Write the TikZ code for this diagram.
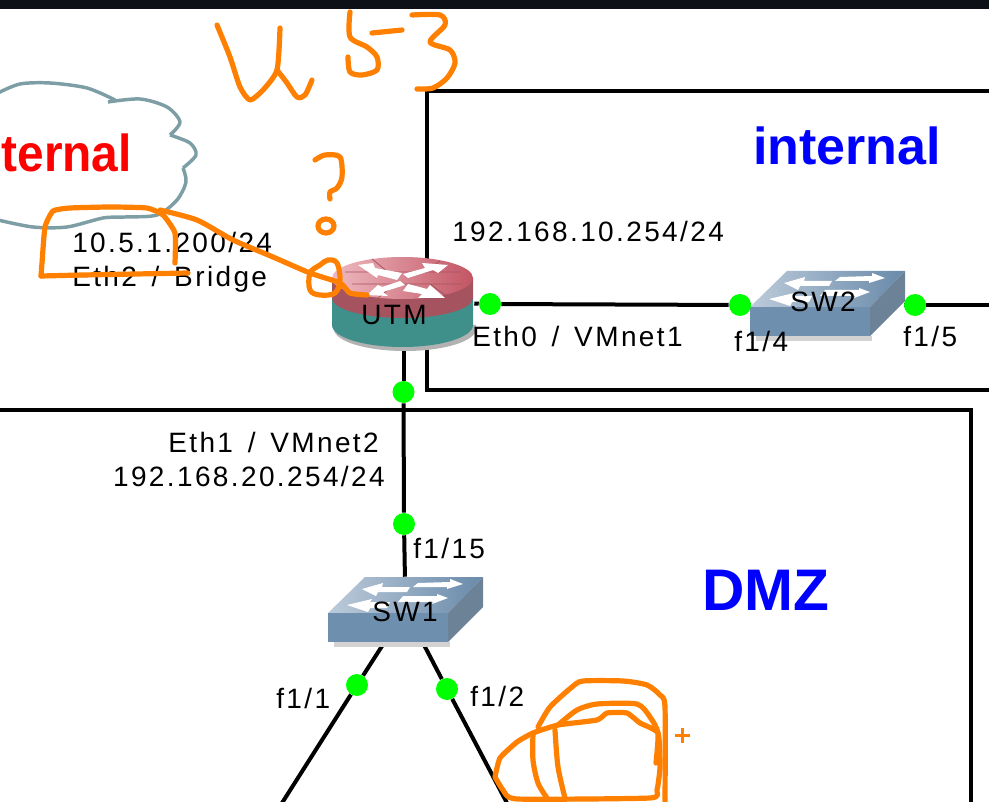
\documentclass[tikz,border=0pt]{standalone}
\usepackage{fontspec}
\setmainfont{Liberation Sans}
\newfontfamily\netfont[LetterSpace=8.5,WordSpace=1.45]{Liberation Sans}
\usetikzlibrary{arrows,backgrounds}
\definecolor{topbar}{RGB}{13,17,23}
\definecolor{inkorange}{RGB}{255,128,0}
\definecolor{portgreen}{RGB}{0,255,0}
\definecolor{cloudline}{RGB}{125,158,165}
\definecolor{routertop}{RGB}{195,85,100}
\definecolor{routerlight}{RGB}{238,185,192}
\definecolor{routerband}{RGB}{165,83,95}
\definecolor{routerteal}{RGB}{63,143,138}
\definecolor{swlight}{RGB}{188,203,218}
\definecolor{swtop}{RGB}{105,138,170}
\definecolor{swfront}{RGB}{110,143,173}
\definecolor{swside}{RGB}{108,130,150}
\tikzstyle{link} = [line width=3pt,color=black]
\tikzstyle{port} = [circle,fill=portgreen,inner sep=0pt,minimum size=16.5pt]
\tikzstyle{body} = [rectangle,inner sep=0pt]
\tikzstyle{netlabel} = [anchor=base west,inner sep=0pt,font=\netfont\fontsize{21}{21}\selectfont]
\tikzstyle{ink} = [line width=3.9pt,color=inkorange,line cap=round,line join=round]
\tikzstyle{zonelabel} = [anchor=base west,inner sep=0pt,font=\bfseries]
\newcommand{\switchicon}[2]{
  \begin{scope}[shift={(#1,#2)}]
    \fill[gray!35] (6,65) rectangle (122,70);
    \shade[left color=swlight,right color=swtop] (0,36) -- (37,0) -- (155,0) -- (120,36) -- cycle;
    \fill[swfront] (0,36) rectangle (120,65);
    \fill[swside] (120,36) -- (155,0) -- (155,30) -- (120,65) -- cycle;
    % Arrows on top
    \fill[white] (34,12) -- (55,6) -- (54,10) -- (82,10) -- (79,15) -- (50,15) -- (48,19) -- cycle;
    \fill[white] (135,7) -- (122,2) -- (122,5) -- (90,6) -- (85,10) -- (119,10) -- (119,12) -- cycle;
    \fill[white] (19,28) -- (44,22) -- (42,25) -- (62,25) -- (59,31) -- (42,31) -- (40,35) -- cycle;
    \fill[white] (120,21) -- (109,17) -- (109,19) -- (75,19) -- (70,25) -- (105,25) -- (104,27) -- cycle;
  \end{scope}
}
\begin{document}
\begin{tikzpicture}[x=0.75pt,y=-0.75pt]
    \useasboundingbox (0,0) rectangle (989,802);
    \fill[topbar] (0,0) rectangle (989,9);

    % Router body
    \fill[gray!60] (334,325) -- (334,329) arc[start angle=180,end angle=0,x radius=71,y radius=22] -- (476,325) -- cycle;
    \fill[routerteal] (332,298) -- (332,325) arc[start angle=180,end angle=0,x radius=70.5,y radius=22] -- (473,298) -- cycle;
    \fill[routerband] (332,278) -- (332,298) arc[start angle=180,end angle=0,x radius=70.5,y radius=20] -- (473,278) -- cycle;
    \shade[left color=routerlight,right color=routertop] (402.5,278) ellipse[x radius=70.5,y radius=21];
    \draw[routerband,line width=0.6pt] (345,272) -- (460,272) (352,284) -- (462,284) (372,259) -- (388,272) (440,261) -- (424,272) (395,284) -- (378,298) (430,284) -- (448,297);
    \fill[white] (358,265) -- (373,263) -- (375,268) -- (402,273) -- (397,280) -- (378,275) -- (377,278) -- cycle;
    \fill[white] (422,263) -- (448,265) -- (438,273) -- (433,270) -- (408,278) -- (403,274) -- (425,268) -- cycle;
    \fill[white] (367,295) -- (378,285) -- (382,287) -- (400,281) -- (405,285) -- (383,292) -- (388,296) -- cycle;
    \fill[white] (445,298) -- (418,298) -- (422,294) -- (403,291) -- (408,284) -- (427,289) -- (430,285) -- cycle;
    \node[body,minimum width=105.75pt,minimum height=67.5pt] (utm) at (403.5,302) {};

    % Switches
    \switchicon{328}{577}
    \node[body,minimum width=116pt,minimum height=48.75pt] (sw1) at (405.5,609.5) {};
    \switchicon{750}{271}
    \node[body,minimum width=116pt,minimum height=48.75pt] (sw2) at (827.5,305) {};

    % Ports
    \foreach \name/\x/\y in {pEthA/490/304, pFd/740/305, pFe/915/305, pEthB/403.5/392, pFo/404/524, pFa/357/685, pFb/447/689}
        \node[port] (\name) at (\x,\y) {};
    \coordinate (cRight) at (989,305);
    \coordinate (cLeft) at (282,803);
    \coordinate (cDown) at (507,803);

    % Zones and links
    \begin{scope}[on background layer]
        \draw[link] (989,91) -- (427,91) -- (427,390) -- (989,390);
        \draw[link] (0,410) -- (971,410) -- (971,802);
        \draw[line width=2.6pt,cloudline,line join=round] plot[smooth] coordinates {(-2,93) (20,84) (50,83) (87,88) (115,100)}
            plot[smooth] coordinates {(108,102) (140,99) (167,107) (180,122) (170,135)}
            plot[smooth] coordinates {(170,135) (190,143) (196,155) (183,168)}
            plot[smooth] coordinates {(183,168) (186,182) (177,200) (157,215) (125,217) (103,218) (67,227) (33,227) (-2,220)};
        \draw[link] (utm) -- (pEthA);
        \draw[link] (pEthA) -- (pFd);
        \draw[link] (pFd) -- (sw2);
        \draw[link] (sw2) -- (pFe);
        \draw[link] (pFe) -- (cRight);
        \draw[link] (utm) -- (pEthB);
        \draw[link] (pEthB) -- (pFo);
        \draw[link] (pFo) -- (sw1);
        \draw[link] (sw1) -- (pFa);
        \draw[link] (pFa) -- (cLeft);
        \draw[link] (sw1) -- (pFb);
        \draw[link] (pFb) -- (cDown);
    \end{scope}

    % Zone names
    \node[zonelabel,anchor=base east,text=red,font=\bfseries\fontsize{39}{39}\selectfont,xscale=0.92,transform shape] (nExternal) at (132,172) {ternal};
    \node[zonelabel,text=blue,font=\bfseries\fontsize{39}{39}\selectfont] (nInternal) at (753,165) {internal};
    \node[zonelabel,text=blue,font=\bfseries\fontsize{44}{44}\selectfont] (nDmz) at (702,610) {DMZ};

    % Labels
    \node[netlabel] (lA) at (72,253) {10.5.1.200/24};
    \node[netlabel] (lB) at (72,287) {Eth2 / Bridge};
    \node[netlabel] (lC) at (452,242) {192.168.10.254/24};
    \node[netlabel] (lD) at (472,346) {Eth0 / VMnet1};
    \node[netlabel] (lE) at (361,325) {UTM};
    \node[netlabel] (lF) at (790,312) {SW2};
    \node[netlabel] (lG) at (734,352) {f1/4};
    \node[netlabel] (lH) at (903,346) {f1/5};
    \node[netlabel,anchor=base east] (lI) at (379,452) {Eth1 / VMnet2};
    \node[netlabel,anchor=base east] (lJ) at (385,486) {192.168.20.254/24};
    \node[netlabel] (lK) at (413,558) {f1/15};
    \node[netlabel] (lL) at (372,621) {SW1};
    \node[netlabel] (lM) at (276,708) {f1/1};
    \node[netlabel] (lN) at (470,706) {f1/2};

    % Handwriting
    \draw[ink] plot[smooth,tension=0.4] coordinates {(217,25) (230,57) (240,87) (250,100) (263,90) (277,70) (280,28)};
    \draw[ink] plot[smooth,tension=0.5] coordinates {(277,70) (287,83) (297,97) (305,95) (312,80)};
    \draw[ink] plot[smooth,tension=0.5] coordinates {(350,12) (350,37) (367,47) (377,57) (377,70) (362,75) (350,72) (348,57)};
    \draw[ink] (372,33) -- (402,30);
    \draw[ink] plot[smooth,tension=0.5] coordinates {(412,15) (440,15) (445,25) (430,42) (450,50) (455,63) (447,78) (433,88) (417,89)};
    \draw[ink] plot[smooth,tension=0.5] coordinates {(315,160) (325,155) (340,157) (342,177) (337,188) (330,192) (330,199)};
    \draw[ink] (326,226) ellipse[x radius=8,y radius=7];
    \draw[ink] plot[smooth cycle,tension=0.6] coordinates {(328,260) (337,263) (340,280) (335,293) (320,295) (310,290) (310,273) (320,265)};
    \draw[ink] plot[smooth,tension=0.4] coordinates {(160,210) (197,220) (233,240) (273,257) (310,273) (340,283) (350,293) (367,295)};
    \draw[ink] plot[smooth,tension=0.3] coordinates {(175,263) (175,233) (163,215) (147,208) (110,207) (70,208) (53,211) (45,227) (42,263) (41,276)};
    \draw[ink] (41,276) -- (83,275) -- (188,273);

    % Scribble
    \draw[ink] plot[smooth,tension=0.4] coordinates {(538,727) (550,707) (572,687) (583,681) (623,681) (647,685) (660,695) (665,707) (665,802)};
    \draw[ink] plot[smooth,tension=0.3] coordinates {(495,777) (500,758) (517,742) (533,733) (558,725) (597,720) (607,713) (627,713) (640,723) (658,733) (660,767) (657,790) (650,798) (517,799) (503,790) (495,777)};
    \draw[ink] plot[smooth,tension=0.5] coordinates {(533,733) (533,760) (538,783) (547,798)};
    \draw[ink] plot[smooth,tension=0.5] coordinates {(555,730) (558,767) (565,798)};
    \draw[ink] plot[smooth,tension=0.4] coordinates {(558,725) (577,710) (597,704) (637,704) (650,717) (658,733) (656,763)};
    \draw[inkorange,line width=1.8pt] (675,735.5) -- (690,735.5) (682.5,728) -- (682.5,743);
\end{tikzpicture}
\end{document}
